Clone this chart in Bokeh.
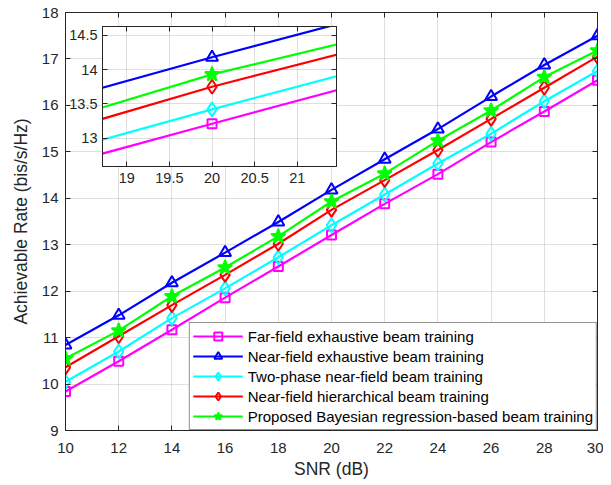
from bokeh.plotting import figure
from bokeh.models import Range1d, FixedTicker, LinearAxis, Legend, LegendItem, GridBox
from bokeh.embed import file_html
from bokeh.resources import INLINE

# ---------------- data ----------------
snr = [10, 12, 14, 16, 18, 20, 22, 24, 26, 28, 30]
far_field_exhaustive = [9.84, 10.49, 11.17, 11.86, 12.53, 13.21, 13.88, 14.52, 15.21, 15.87, 16.54]
near_field_exhaustive = [10.84, 11.48, 12.18, 12.83, 13.49, 14.18, 14.84, 15.49, 16.19, 16.87, 17.50]
two_phase_near_field = [10.05, 10.70, 11.42, 12.06, 12.73, 13.42, 14.08, 14.75, 15.39, 16.09, 16.74]
near_field_hierarchical = [10.36, 11.03, 11.70, 12.35, 13.02, 13.75, 14.39, 15.04, 15.71, 16.38, 17.05]
proposed_bayesian = [10.55, 11.15, 11.89, 12.51, 13.18, 13.93, 14.53, 15.24, 15.89, 16.61, 17.18]

labels = [
    "Far-field exhaustive beam training",
    "Near-field exhaustive beam training",
    "Two-phase near-field beam training",
    "Near-field hierarchical beam training",
    "Proposed Bayesian regression-based beam training",
]
values = [far_field_exhaustive, near_field_exhaustive, two_phase_near_field,
          near_field_hierarchical, proposed_bayesian]

x_ticks = [10, 12, 14, 16, 18, 20, 22, 24, 26, 28, 30]
y_ticks = [9, 10, 11, 12, 13, 14, 15, 16, 17, 18]
inset_x_ticks = [19, 19.5, 20, 20.5, 21]
inset_x_tick_labels = ["19", "19.5", "20", "20.5", "21"]
inset_y_ticks = [13, 13.5, 14, 14.5]
inset_y_tick_labels = ["13", "13.5", "14", "14.5"]

# ---------------- styles ----------------
colors = ["#FF00FF", "#0000FF", "#00FFFF", "#FF0000", "#00FF00"]
markers = ["square", "triangle", "diamond", "diamond", "star"]
marker_sizes = [9, 12, 14, 14, 15]
marker_fill = [None, None, None, None, "#00FF00"]

FONT = "Liberation Sans"
AX = "#262626"


def style_axis(ax, fs, standoff):
    ax.axis_line_color = AX
    ax.axis_line_width = 1
    ax.major_tick_line_color = AX
    ax.major_tick_in = 5
    ax.major_tick_out = 0
    ax.minor_tick_line_color = None
    ax.major_label_text_font = FONT
    ax.major_label_text_font_size = fs
    ax.major_label_text_color = AX
    ax.major_label_standoff = standoff


def mirror_axis(fig, ticks, side):
    ax = LinearAxis(ticker=FixedTicker(ticks=ticks))
    style_axis(ax, "0px", 0)
    ax.major_label_text_alpha = 0
    fig.add_layout(ax, side)


def draw(fig):
    items = []
    for lab, vals, c, m, s, f in zip(labels, values, colors, markers, marker_sizes, marker_fill):
        lr = fig.line(snr, vals, line_color=c, line_width=2.2)
        sr = fig.scatter(snr, vals, marker=m, size=s, line_color=c, line_width=2,
                         fill_color=f, fill_alpha=1 if f else 0)
        items.append(LegendItem(label=lab, renderers=[lr, sr]))
    return items


W, H = 603, 484
p = figure(width=W, height=H, x_range=Range1d(10, 30), y_range=Range1d(9, 18),
           output_backend="svg", toolbar_location=None,
           min_border_left=65, min_border_right=6, min_border_top=12, min_border_bottom=54,
           background_fill_color="white", border_fill_color="white",
           outline_line_color=AX, outline_line_width=1)
p.xaxis.ticker = FixedTicker(ticks=x_ticks)
p.yaxis.ticker = FixedTicker(ticks=y_ticks)
style_axis(p.xaxis[0], "15px", 12)
style_axis(p.yaxis[0], "15px", 7)
p.xaxis.axis_label = "SNR (dB)"
p.yaxis.axis_label = "Achievable Rate (bis/s/Hz)"
for ax in (p.xaxis[0], p.yaxis[0]):
    ax.axis_label_text_font = FONT
    ax.axis_label_text_font_size = "17.5px"
    ax.axis_label_text_font_style = "normal"
    ax.axis_label_text_color = AX
p.xaxis.axis_label_standoff = 3
p.yaxis.axis_label_standoff = 8
mirror_axis(p, x_ticks, "above")
mirror_axis(p, y_ticks, "right")
for g in (p.xgrid[0], p.ygrid[0]):
    g.grid_line_color = AX
    g.grid_line_alpha = 0.15
p.xgrid.ticker = FixedTicker(ticks=x_ticks)
p.ygrid.ticker = FixedTicker(ticks=y_ticks)

items = draw(p)
legend = Legend(items=items, location="bottom_right", margin=0, padding=3,
                spacing=0, glyph_width=50, glyph_height=20, label_height=20,
                label_standoff=5, label_text_font=FONT, label_text_font_size="15px",
                label_text_color="black", border_line_color=AX, border_line_width=1,
                background_fill_color="white", background_fill_alpha=1)
p.add_layout(legend)

# ---------------- inset ----------------
inset = figure(width=288, height=174, x_range=Range1d(18.715, 21.46), y_range=Range1d(12.585, 14.63),
               output_backend="svg", toolbar_location=None,
               min_border_left=50, min_border_right=4, min_border_top=4, min_border_bottom=30,
               background_fill_color="white", border_fill_alpha=0,
               outline_line_color=AX, outline_line_width=1)
inset.xaxis.ticker = FixedTicker(ticks=inset_x_ticks)
inset.yaxis.ticker = FixedTicker(ticks=inset_y_ticks)
inset.xaxis.major_label_overrides = {t: l for t, l in zip(inset_x_ticks, inset_x_tick_labels)}
inset.yaxis.major_label_overrides = {t: l for t, l in zip(inset_y_ticks, inset_y_tick_labels)}
style_axis(inset.xaxis[0], "14.5px", 6)
style_axis(inset.yaxis[0], "14.5px", 5)
mirror_axis(inset, inset_x_ticks, "above")
mirror_axis(inset, inset_y_ticks, "right")
for g in (inset.xgrid[0], inset.ygrid[0]):
    g.grid_line_color = AX
    g.grid_line_alpha = 0.15
inset.xgrid.ticker = FixedTicker(ticks=inset_x_ticks)
inset.ygrid.ticker = FixedTicker(ticks=inset_y_ticks)
draw(inset)

grid = GridBox(children=[(p, 0, 0, 3, 3), (inset, 1, 1, 1, 1)],
               rows=["22px", "174px", "288px"], cols=["52px", "288px", "263px"],
               spacing=0)

open("out.html", "w").write(file_html(grid, INLINE))
